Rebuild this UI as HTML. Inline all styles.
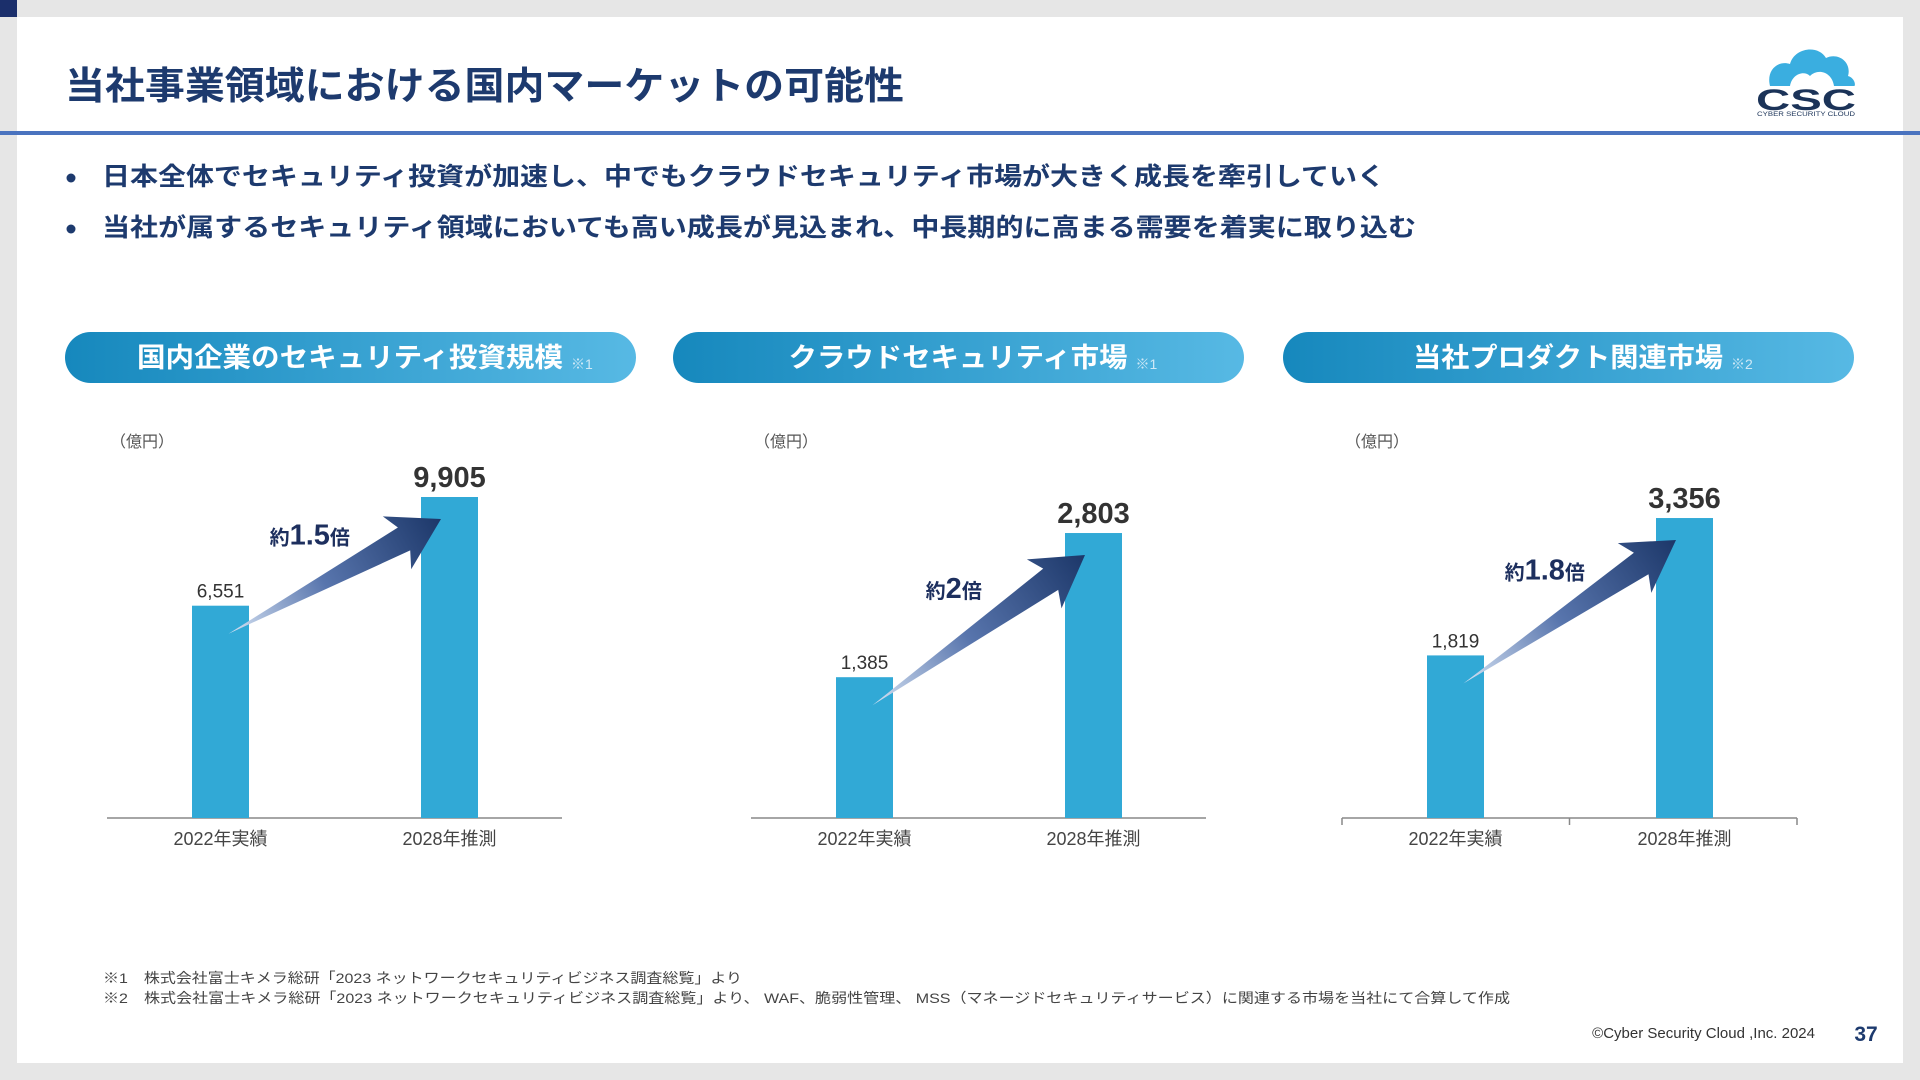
<!DOCTYPE html>
<html><head><meta charset="utf-8"><style>
html,body{margin:0;padding:0;width:1920px;height:1080px;overflow:hidden;background:#e6e6e6}
svg{display:block}
text{font-family:"Liberation Sans","Noto Sans CJK JP",sans-serif}
</style></head><body>
<svg id="slide" width="1920" height="1080" viewBox="0 0 1920 1080">
<defs>
<linearGradient id="pill" x1="0" y1="0" x2="1" y2="0">
<stop offset="0" stop-color="#1688bd"/><stop offset="1" stop-color="#57b9e4"/>
</linearGradient>
</defs>
<rect x="0" y="0" width="17" height="17" fill="#1b2f6b"/>
<rect x="17" y="17" width="1886" height="1046" fill="#ffffff"/>
<text x="65" y="99" font-size="38" font-weight="bold" fill="#1d3a6e" textLength="839" lengthAdjust="spacingAndGlyphs">当社事業領域における国内マーケットの可能性</text>
<rect x="0" y="131" width="1920" height="4" fill="#4a73bf"/>
<g>
<path d="M1770,86 C1766,70 1778,60 1790,64 C1794,48 1818,44 1826,58 C1838,52 1852,62 1848,76 C1855,78 1856,86 1854,86 Z" fill="#3aaee0"/>
<path d="M1790,86 C1792,74 1804,70 1810,76 C1818,68 1832,72 1834,86 Z" fill="#ffffff"/>
<text x="1806" y="110" font-size="30" font-weight="bold" fill="#1b3358" text-anchor="middle" textLength="100" lengthAdjust="spacingAndGlyphs">CSC</text>
<text x="1806" y="116" font-size="6" fill="#1b3358" text-anchor="middle" textLength="98" lengthAdjust="spacingAndGlyphs">CYBER SECURITY CLOUD</text>
</g>
<g>
<circle cx="71" cy="178" r="4.5" fill="#1d3a6e"/>
<text x="102" y="185" font-size="25" font-weight="bold" fill="#1d3a6e" textLength="1283" lengthAdjust="spacingAndGlyphs">日本全体でセキュリティ投資が加速し、中でもクラウドセキュリティ市場が大きく成長を牽引していく</text>
<circle cx="71" cy="229" r="4.5" fill="#1d3a6e"/>
<text x="102" y="236" font-size="25" font-weight="bold" fill="#1d3a6e" textLength="1314" lengthAdjust="spacingAndGlyphs">当社が属するセキュリティ領域においても高い成長が見込まれ、中長期的に高まる需要を着実に取り込む</text>
</g>
<g id="charts"></g>
<text x="103" y="983" font-size="14" fill="#444" textLength="639" lengthAdjust="spacingAndGlyphs">※1　株式会社富士キメラ総研「2023 ネットワークセキュリティビジネス調査総覧」より</text>
<text x="103" y="1003" font-size="14" fill="#444" textLength="1407" lengthAdjust="spacingAndGlyphs">※2　株式会社富士キメラ総研「2023 ネットワークセキュリティビジネス調査総覧」より、 WAF、脆弱性管理、 MSS（マネージドセキュリティサービス）に関連する市場を当社にて合算して作成</text>
<text x="1815" y="1038" font-size="15" fill="#333" text-anchor="end">©Cyber Security Cloud ,Inc. 2024</text>
<text x="1866" y="1041" font-size="21" font-weight="bold" fill="#1d3a6e" text-anchor="middle">37</text>
</svg>
<script>
const chartTitles = ["国内企業のセキュリティ投資規模", "クラウドセキュリティ市場", "当社プロダクト関連市場"];
const chartNotes = ["※1", "※1", "※2"];
const categories = ["2022年実績", "2028年推測"];
const values2022 = [6551, 1385, 1819];
const values2028 = [9905, 2803, 3356];
const valueLabels2022 = ["6,551", "1,385", "1,819"];
const valueLabels2028 = ["9,905", "2,803", "3,356"];
const multipliers = ["1.5", "2", "1.8"];
const yMaxes = [11664, 3718, 4229];

const NS = "http://www.w3.org/2000/svg";
const root = document.getElementById("charts");
function mk(tag, attrs, parent) {
  const e = document.createElementNS(NS, tag);
  for (const k in attrs) e.setAttribute(k, attrs[k]);
  parent.appendChild(e);
  return e;
}
const panelX = [65, 673, 1283];
const axisX = [107, 751, 1342];
const axisW = 455;
const baseY = 818, plotH = 378, barW = 57;
const barOff = [85, 314];
const headerTextW = [426, 339, 310];

for (let c = 0; c < 3; c++) {
  const g = mk("g", {}, root);
  
  
  // header pill
  const pill = mk("rect", {x: panelX[c], y: 332, width: 571, height: 51, rx: 25.5, fill: "url(#pill)"}, g);
  
  
  const tx = panelX[c] + 285 - headerTextW[c] / 2;
  const ht = mk("text", {x: tx, y: 367, "font-size": 27, "font-weight": "bold", fill: "#fff", textLength: headerTextW[c], lengthAdjust: "spacingAndGlyphs"}, g);
  ht.textContent = chartTitles[c];
  
  
  const nt = mk("text", {x: tx + headerTextW[c] + 8, y: 369, "font-size": 14, fill: "#cfe9f6"}, g);
  nt.textContent = chartNotes[c];
  
  
  // unit
  const ut = mk("text", {x: axisX[c] + 3, y: 447, "font-size": 16, fill: "#555"}, g);
  ut.textContent = "（億円）";
  
  
  // axis
  const ax = mk("line", {x1: axisX[c], y1: baseY, x2: axisX[c] + axisW, y2: baseY, stroke: "#888", "stroke-width": 1.5}, g);
  
  
  if (c === 2) {
    for (const t of [0, axisW / 2, axisW]) {
      const tk = mk("line", {x1: axisX[c] + t, y1: baseY, x2: axisX[c] + t, y2: baseY + 7, stroke: "#888", "stroke-width": 1.5}, g);
      
      
    }
  }
  const vals = [values2022[c], values2028[c]];
  const labs = [valueLabels2022[c], valueLabels2028[c]];
  const y = v => baseY - v / yMaxes[c] * plotH;
  const tops = [];
  for (let i = 0; i < 2; i++) {
    const bx = axisX[c] + barOff[i];
    const top = y(vals[i]);
    tops.push(top);
    const b = mk("rect", {x: bx, y: top, width: barW, height: baseY - top, fill: "#31a9d6"}, g);
    
    
    const vl = mk("text", {x: bx + barW / 2, y: top - (i ? 10 : 8), "font-size": i ? 29 : 19, "font-weight": i ? "bold" : "normal", fill: "#333", "text-anchor": "middle"}, g);
    vl.textContent = labs[i];
    
    
    const cl = mk("text", {x: bx + barW / 2, y: 845, "font-size": 18, fill: "#444", "text-anchor": "middle"}, g);
    cl.textContent = categories[i];
    
    
  }
  // arrow
  const x0 = axisX[c] + barOff[0] + barW / 2 + 8, y0 = tops[0] + 28;
  const x1 = axisX[c] + barOff[1] + 20, y1 = tops[1] + 22;
  const dx = x1 - x0, dy = y1 - y0, L = Math.hypot(dx, dy);
  const ux = dx / L, uy = dy / L, px = -uy, py = ux;
  const P = (a, w) => (x0 + ux * a + px * w).toFixed(1) + "," + (y0 + uy * a + py * w).toFixed(1);
  const gid = "ag" + c;
  const defs = mk("defs", {}, g);
  const lg = mk("linearGradient", {id: gid, gradientUnits: "userSpaceOnUse", x1: x0, y1: y0, x2: x1, y2: y1}, defs);
  mk("stop", {offset: 0, "stop-color": "#d5e2f3"}, lg);
  mk("stop", {offset: 0.45, "stop-color": "#5875ad"}, lg);
  mk("stop", {offset: 1, "stop-color": "#1c3769"}, lg);
  const ar = mk("polygon", {points: [P(0, 0), P(L - 42, -13), P(L - 50, -30), P(L, 0), P(L - 50, 30), P(L - 42, 13)].join(" "), fill: "url(#" + gid + ")"}, g);
  
  
  const mt = mk("text", {x: (x0 + x1) / 2 - 25, y: (y0 + y1) / 2 - 32, "text-anchor": "middle", fill: "#1d2f5e", "font-weight": "bold", "font-size": 20}, g);
  
  
  const s1 = mk("tspan", {}, mt); s1.textContent = "約";
  const s2 = mk("tspan", {"font-size": 29}, mt); s2.textContent = multipliers[c];
  const s3 = mk("tspan", {}, mt); s3.textContent = "倍";
}
</script>
</body></html>
